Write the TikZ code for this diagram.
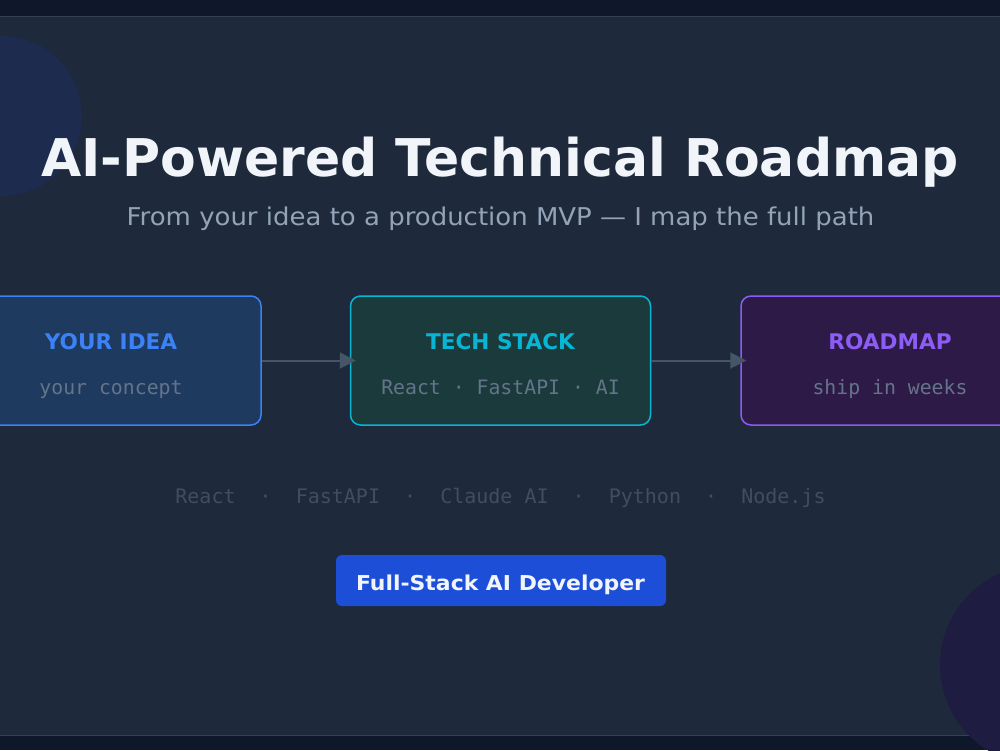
\documentclass[tikz,border=0pt]{standalone}
\usepackage{fontspec}
\setmainfont{DejaVu Sans}
\setmonofont{DejaVu Sans Mono}
\usetikzlibrary{arrows.meta}
\definecolor{bgdark}{HTML}{0F172A}
\definecolor{panel}{HTML}{1E293B}
\definecolor{panelline}{HTML}{334155}
\definecolor{circA}{HTML}{1C2B4E}
\definecolor{circB}{HTML}{1F1C42}
\definecolor{titlec}{HTML}{F1F5F9}
\definecolor{subc}{HTML}{94A3B8}
\definecolor{blueS}{HTML}{3B82F6}
\definecolor{blueF}{HTML}{1E3A5F}
\definecolor{cyanS}{HTML}{06B6D4}
\definecolor{cyanF}{HTML}{1B3A3B}
\definecolor{purpS}{HTML}{8B5CF6}
\definecolor{purpF}{HTML}{2E1A47}
\definecolor{monoc}{HTML}{64748B}
\definecolor{arrowc}{HTML}{475569}
\definecolor{techc}{HTML}{404D62}
\definecolor{badgec}{HTML}{1D4ED8}
\tikzset{
  stagebox/.style={draw=#1, line width=1.5pt, rounded corners=10pt, minimum width=300pt, minimum height=129pt, inner sep=0pt},
  stagetitle/.style={anchor=base, font=\fontsize{21.6}{26}\selectfont\bfseries, text=#1},
  stagesub/.style={anchor=base, font=\fontsize{19.8}{24}\selectfont\ttfamily, text=monoc},
  flow/.style={draw=arrowc, line width=2pt, -{Triangle[length=16pt,width=16pt]}, shorten >=-6pt},
}
\begin{document}
\begin{tikzpicture}[x=1pt,y=-1pt]
\useasboundingbox (0,0) rectangle (1000,750);
\fill[bgdark] (0,0) rectangle (1000,750);
\fill[panel] (0,16) rectangle (1000,735);
\draw[panelline, line width=1pt] (-2,16) -- (1002,16);
\draw[panelline, line width=1pt] (-2,735) -- (1002,735);
\fill[circA] (2,116) circle (80);
\fill[circB] (1040,665) circle (100);
% title
\node[anchor=base, text=titlec, font=\fontsize{52}{60}\selectfont\bfseries] (title) at (500,176) {AI-Powered Technical Roadmap};
\node[anchor=base, text=subc, font=\fontsize{24.5}{28}\selectfont, xscale=1.06] (subtitle) at (500.5,225) {From your idea to a production MVP — I map the full path};
% boxes
\node[stagebox=blueS, fill=blueF] (idea) at (111,360.5) {};
\node[stagebox=cyanS, fill=cyanF] (stack) at (500.5,360.5) {};
\node[stagebox=purpS, fill=purpF] (road) at (891,360.5) {};
\node[stagetitle=blueS] (ideaT) at (111,349) {YOUR IDEA};
\node[stagesub] (ideaS) at (111,394) {your concept};
\node[stagetitle=cyanS] (stackT) at (500.5,349) {TECH STACK};
\node[stagesub] (stackS) at (500.5,394) {React · FastAPI · AI};
\node[stagetitle=purpS] (roadT) at (890,349) {ROADMAP};
\node[stagesub] (roadS) at (890,394) {ship in weeks};
% arrows
\draw[flow] (idea.east) -- (stack.west);
\draw[flow] (stack.east) -- (road.west);
% tech list
\node[anchor=base, text=techc, font=\fontsize{20}{24}\selectfont\ttfamily] (tech) at (500.5,503.5) {React\ \ ·\ \ FastAPI\ \ ·\ \ Claude AI\ \ ·\ \ Python\ \ ·\ \ Node.js};
% badge
\node[fill=badgec, rounded corners=6pt, minimum width=330pt, minimum height=51pt] (badge) at (501,580.5) {};
\node[anchor=base, text=titlec, font=\fontsize{20.5}{24}\selectfont\bfseries, xscale=1.07] (badgeT) at (500.5,590) {Full-Stack AI Developer};
\end{tikzpicture}
\end{document}
